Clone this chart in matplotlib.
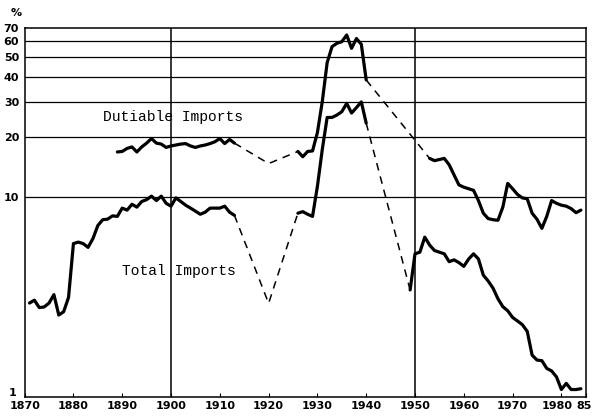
import matplotlib
matplotlib.use("Agg")
import matplotlib.pyplot as plt
import matplotlib.transforms as mtransforms
from matplotlib import font_manager
from matplotlib.ticker import FixedLocator, FixedFormatter, NullLocator

# ---- data (percent) ----
# Total imports: duty as a share of the value of all imports
total_years_a = list(range(1871, 1914))
total_vals_a = [2.95, 3.05, 2.80, 2.82, 2.95, 3.25, 2.57, 2.67, 3.15, 5.85,
                5.95, 5.85, 5.60, 6.20, 7.20, 7.70, 7.75, 8.05, 8.00, 8.80,
                8.60, 9.20, 8.90, 9.50, 9.70, 10.1, 9.60, 10.1, 9.30, 9.00,
                9.90, 9.50, 9.10, 8.80, 8.50, 8.20, 8.40, 8.80, 8.80, 8.80,
                9.00, 8.40, 8.10]
total_1920 = 2.94
total_years_b = list(range(1926, 1941))
total_vals_b = [8.30, 8.45, 8.20, 8.00, 11.3, 17.3, 25.0, 25.0, 25.7, 26.7,
                29.4, 26.3, 28.0, 29.9, 23.4]
total_years_c = list(range(1949, 1985))
total_vals_c = [3.43, 5.20, 5.30, 6.30, 5.75, 5.40, 5.30, 5.20, 4.75, 4.85,
                4.70, 4.50, 4.90, 5.20, 4.90, 4.07, 3.80, 3.50, 3.10, 2.83,
                2.70, 2.50, 2.40, 2.30, 2.13, 1.62, 1.53, 1.52, 1.39, 1.35,
                1.26, 1.09, 1.17, 1.09, 1.09, 1.10]

# Dutiable imports: duty as a share of the value of dutiable imports
duti_years_a = list(range(1889, 1914))
duti_vals_a = [16.8, 16.9, 17.5, 17.8, 16.8, 17.8, 18.6, 19.6, 18.6, 18.4,
               17.7, 18.0, 18.2, 18.4, 18.5, 18.0, 17.7, 18.0, 18.2, 18.5,
               18.9, 19.6, 18.5, 19.4, 18.6]
duti_1920 = 14.7
duti_years_b = list(range(1926, 1941))
duti_vals_b = [16.9, 15.9, 16.9, 17.0, 21.0, 30.0, 47.0, 56.5, 58.7, 59.8,
               64.6, 55.4, 62.0, 58.0, 38.5]
duti_years_c = list(range(1953, 1985))
duti_vals_c = [15.6, 15.2, 15.4, 15.6, 14.5, 12.9, 11.5, 11.2, 11.0, 10.8,
               9.60, 8.30, 7.80, 7.70, 7.65, 8.90, 11.7, 11.0, 10.3, 9.90,
               9.80, 8.30, 7.74, 6.97, 8.00, 9.60, 9.30, 9.10, 9.00, 8.75,
               8.35, 8.60]

x_ticks = [1870, 1880, 1890, 1900, 1910, 1920, 1930, 1940, 1950, 1960,
           1970, 1980, 1985]
x_labels = ["1870", "1880", "1890", "1900", "1910", "1920", "1930", "1940",
            "1950", "1960", "1970", "1980", "85"]
y_ticks = [1, 10, 20, 30, 40, 50, 60, 70]
y_labels = ["1", "10", "20", "30", "40", "50", "60", "70"]

# narrow face for the axis numbers when one is installed
installed = {f.name for f in font_manager.fontManager.ttflist}
tick_family = "Liberation Sans Narrow" if "Liberation Sans Narrow" in installed else "DejaVu Sans"

# ---- figure ----
fig = plt.figure(figsize=(5.92, 4.18), dpi=100)
ax = fig.add_axes([0.0416, 0.0502, 0.9479, 0.8828])
ax.set_yscale("log")
ax.set_xlim(1870, 1985)
ax.set_ylim(1, 70)

# reference grid
for v in [10, 20, 30, 40, 50, 60]:
    ax.axhline(v, color="black", lw=0.9, zorder=1)
for yr in [1900, 1950]:
    ax.axvline(yr, color="black", lw=1.1, zorder=1)

solid = dict(color="black", lw=2.3, solid_joinstyle="round",
             solid_capstyle="round", zorder=3)
dashed = dict(color="black", lw=1.1, ls=(0, (5, 4)), zorder=2)

# solid segments
ax.plot(total_years_a, total_vals_a, **solid)
ax.plot(total_years_b, total_vals_b, **solid)
ax.plot(total_years_c, total_vals_c, **solid)
ax.plot(duti_years_a, duti_vals_a, **solid)
ax.plot(duti_years_b, duti_vals_b, **solid)
ax.plot(duti_years_c, duti_vals_c, **solid)

# dashed bridges across the gaps in the records
ax.plot([total_years_a[-1], 1920, total_years_b[0]],
        [total_vals_a[-1], total_1920, total_vals_b[0]], **dashed)
ax.plot([total_years_b[-1], total_years_c[0]],
        [total_vals_b[-1], total_vals_c[0]], **dashed)
ax.plot([duti_years_a[-1], 1920, duti_years_b[0]],
        [duti_vals_a[-1], duti_1920, duti_vals_b[0]], **dashed)
ax.plot([duti_years_b[-1], duti_years_c[0]],
        [duti_vals_b[-1], duti_vals_c[0]], **dashed)

# series labels
ax.text(1886.1, 25.1, "Dutiable Imports", family="Liberation Mono",
        fontsize=10.5, ha="left", va="center", zorder=4)
ax.text(1890.0, 4.27, "Total Imports", family="Liberation Mono",
        fontsize=10.5, ha="left", va="center", zorder=4)

# axes
for s in ax.spines.values():
    s.set_linewidth(1.1)
    s.set_color("black")

ax.xaxis.set_major_locator(FixedLocator(x_ticks))
ax.xaxis.set_major_formatter(FixedFormatter(x_labels))
ax.xaxis.set_minor_locator(NullLocator())
ax.yaxis.set_major_locator(FixedLocator(y_ticks))
ax.yaxis.set_major_formatter(FixedFormatter(y_labels))
ax.yaxis.set_minor_locator(NullLocator())

ax.tick_params(axis="x", direction="in", length=3, width=0.8, pad=3,
               labelsize=8)
ax.tick_params(axis="y", length=0, pad=4, labelsize=8)
for lab in ax.get_xticklabels() + ax.get_yticklabels():
    lab.set_fontweight("bold")
    lab.set_family(tick_family)


def nudge(label, dx_px, dy_px):
    label.set_transform(label.get_transform() +
                        mtransforms.ScaledTranslation(dx_px / 100, dy_px / 100,
                                                      fig.dpi_scale_trans))


# lift the bottom "1" clear of the first year label
nudge(ax.get_yticklabels()[0], -3, 5)
# keep "1980" and the closing "85" apart and inside the figure edge
nudge(ax.get_xticklabels()[-2], -4, 0)
nudge(ax.get_xticklabels()[-1], -2, 0)

fig.text(0.018, 0.968, "%", fontsize=8, fontweight="bold",
         ha="left", va="center")

fig.savefig("out.png", dpi=100)
